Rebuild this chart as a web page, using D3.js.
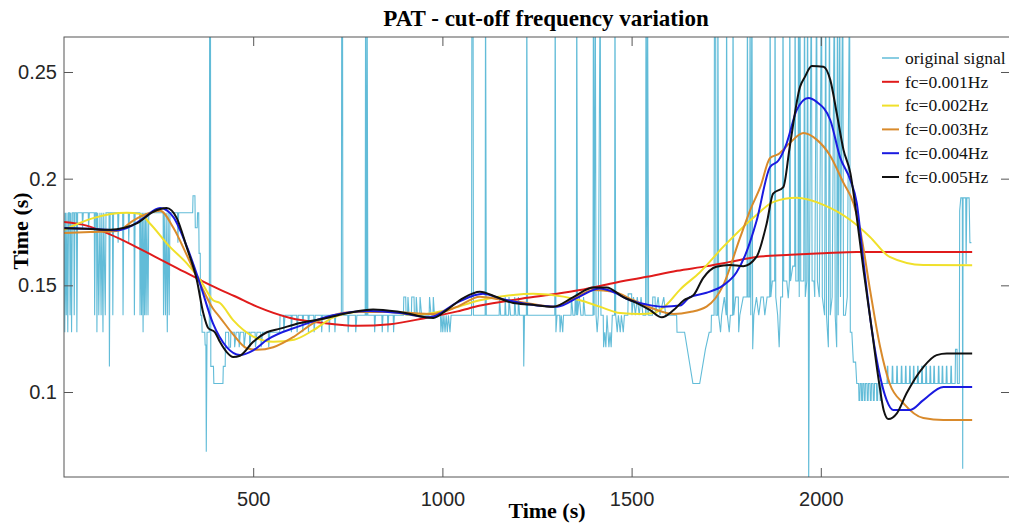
<!DOCTYPE html>
<html lang="en">
<head>
    <meta charset="UTF-8">
    <title>PAT - cut-off frequency variation</title>
    <style>
        body { margin: 0; background: #fff; }
    </style>
</head>
<body>
<script src="https://d3js.org/d3.v7.min.js"></script>

<div id="my_chart"></div>

<script type="text/javascript">

    // ---- data (time in s, PAT in s) ----
    var timeTicks = [500, 1000, 1500, 2000];
    var valueTicks = [0.1, 0.15, 0.2, 0.25];

    var seriesNames = ["original signal", "fc=0.001Hz", "fc=0.002Hz", "fc=0.003Hz", "fc=0.004Hz", "fc=0.005Hz"];
    var seriesColors = ["#62bcd8", "#e01b1b", "#f0e02a", "#d98a2b", "#1a1ae0", "#111111"];

    // raw PAT signal, corners of the sampled trace (values above the top are clipped spikes)
    var originalSignal = [
        [0,0.184],[2,0.128],[4,0.184],[6,0.136],[8,0.184],[10,0.128],[12,0.184],[15,0.184],[16,0.136],[18,0.184],[20,0.128],[22,0.184],[26,0.184],[27,0.136],[29,0.184],[33,0.184],[34,0.128],[36,0.184],
        [48,0.184],[49,0.177],[51,0.184],[64,0.184],[65,0.177],[67,0.184],
        [80,0.184],[81,0.136],[83,0.184],[86,0.184],[87,0.128],[89,0.184],[92,0.136],[95,0.184],[98,0.136],[100,0.184],[103,0.128],[105,0.184],[109,0.136],[111,0.184],
        [119,0.184],[120,0.112],[122,0.184],[128,0.184],[129,0.136],[131,0.184],[142,0.184],[143,0.17],[145,0.184],[155,0.184],[156,0.136],[158,0.184],[170,0.184],[171,0.17],[173,0.184],[185,0.184],[186,0.136],[188,0.184],
        [200,0.184],[201,0.136],[203,0.184],[205,0.136],[207,0.184],[209,0.128],[211,0.184],[213,0.136],[215,0.184],[217,0.136],[219,0.184],[222,0.136],[224,0.184],
        [262,0.184],[263,0.136],[265,0.184],[268,0.136],[270,0.184],[273,0.128],[275,0.184],[278,0.136],[280,0.184],
        [300,0.184],[301,0.17],[303,0.184],
        [340,0.184],[341,0.192],[346,0.192],[347,0.177],[352,0.177],[353,0.184],[356,0.184],[357,0.165],[360,0.165],[361,0.136],[364,0.136],[365,0.128],[372,0.128],[373,0.122],[375,0.122],[376,0.072],[378,0.128],[384,0.128],[385,0.30],[387,0.30],[388,0.112],
        [395,0.112],[396,0.104],[420,0.104],[421,0.112],[426,0.112],[427,0.128],
        [435,0.128],[436,0.121],[440,0.121],[441,0.128],[450,0.128],[451,0.121],[455,0.128],[462,0.128],[463,0.121],[466,0.128],[475,0.128],[476,0.121],[480,0.128],[490,0.128],[491,0.121],[494,0.128],[505,0.128],[506,0.121],[510,0.128],[520,0.128],[521,0.121],[525,0.128],[540,0.128],[541,0.121],[544,0.128],
        [570,0.128],[571,0.136],[580,0.136],[581,0.128],[584,0.136],[600,0.136],[601,0.128],[603,0.136],[615,0.136],[616,0.128],[619,0.136],[630,0.136],[631,0.128],[633,0.136],[645,0.136],[646,0.128],[648,0.136],[660,0.136],[661,0.128],[664,0.136],[680,0.136],[681,0.128],[683,0.136],[700,0.136],[701,0.128],[703,0.136],[715,0.136],[716,0.128],[718,0.136],
        [733,0.136],[734,0.30],[736,0.30],[737,0.136],[750,0.136],[751,0.128],[753,0.136],[770,0.136],[771,0.128],[774,0.136],[796,0.136],[797,0.30],[799,0.136],[800,0.136],[801,0.30],[803,0.136],[820,0.136],[821,0.128],[823,0.136],[840,0.136],[841,0.128],[843,0.136],[855,0.136],[856,0.128],[858,0.136],
        [870,0.136],[871,0.128],[873,0.136],[897,0.136],[898,0.1445],[903,0.1445],[904,0.136],[908,0.136],[909,0.1445],[912,0.136],[918,0.136],[919,0.1445],[925,0.1445],[926,0.136],[930,0.136],[931,0.1445],[934,0.136],[940,0.136],[941,0.1445],[945,0.136],[965,0.136],[966,0.1445],[970,0.136],[975,0.136],[976,0.1445],[979,0.136],
        [995,0.136],[996,0.128],[999,0.136],[1001,0.128],[1004,0.136],[1007,0.128],[1010,0.136],[1013,0.128],[1016,0.136],[1020,0.128],[1023,0.136],
        [1077,0.136],[1078,0.30],[1081,0.30],[1082,0.136],[1113,0.136],[1114,0.30],[1116,0.136],[1150,0.136],[1151,0.1445],[1154,0.136],[1165,0.136],[1166,0.1445],[1168,0.136],[1175,0.136],[1176,0.1445],[1180,0.136],[1190,0.136],[1191,0.1445],[1194,0.136],[1200,0.136],[1201,0.1445],[1204,0.136],
        [1214,0.136],[1215,0.112],[1217,0.136],[1222,0.136],[1223,0.30],[1225,0.136],[1297,0.136],[1298,0.30],[1300,0.128],[1303,0.136],[1310,0.136],[1311,0.128],[1314,0.136],[1318,0.128],[1320,0.136],
        [1340,0.136],[1341,0.1445],[1345,0.136],[1350,0.136],[1351,0.1445],[1354,0.136],[1355,0.30],[1357,0.136],[1362,0.1445],[1366,0.136],[1372,0.136],[1373,0.1445],[1377,0.136],
        [1398,0.136],[1399,0.30],[1401,0.136],[1404,0.30],[1406,0.136],[1409,0.128],[1412,0.136],[1417,0.30],[1419,0.136],[1425,0.136],[1426,0.121],[1429,0.128],[1432,0.121],[1435,0.136],[1440,0.121],[1443,0.128],[1446,0.121],[1449,0.136],
        [1455,0.136],[1456,0.30],[1458,0.136],[1462,0.128],[1465,0.136],[1470,0.128],[1473,0.136],[1478,0.128],[1481,0.136],[1490,0.136],[1491,0.146],[1500,0.146],[1501,0.136],[1505,0.1445],[1510,0.136],[1515,0.1445],[1520,0.136],[1525,0.1445],[1530,0.136],
        [1537,0.136],[1538,0.30],[1541,0.136],[1542,0.30],[1545,0.136],[1555,0.136],[1556,0.1445],[1562,0.1445],[1563,0.136],[1570,0.1445],[1575,0.136],[1585,0.1445],[1590,0.136],[1619,0.136],[1620,0.128],[1640,0.128],
        [1662,0.104],[1680,0.104],[1695,0.120],[1705,0.128],[1710,0.128],[1711,0.136],[1718,0.136],[1719,0.30],[1722,0.30],[1723,0.136],[1727,0.136],[1728,0.30],[1730,0.136],[1735,0.128],[1738,0.136],[1745,0.1445],[1750,0.136],[1751,0.30],[1753,0.136],[1758,0.128],[1761,0.136],
        [1767,0.136],[1768,0.30],[1770,0.136],[1775,0.1445],[1782,0.1445],[1783,0.128],[1786,0.136],[1795,0.1445],[1805,0.1445],[1806,0.30],[1808,0.1445],[1812,0.1445],[1813,0.30],[1815,0.136],[1818,0.30],[1820,0.120],[1823,0.136],
        [1830,0.1445],[1836,0.136],[1842,0.1445],[1848,0.1445],[1852,0.136],[1858,0.1445],[1865,0.1445],[1866,0.30],[1868,0.1445],[1872,0.152],[1878,0.152],[1879,0.30],[1881,0.1445],[1886,0.136],[1890,0.121],[1894,0.1445],[1899,0.1445],[1900,0.30],[1902,0.152],
        [1910,0.152],[1914,0.144],[1917,0.152],[1918,0.30],[1920,0.152],[1926,0.159],[1931,0.159],[1932,0.30],[1934,0.152],[1940,0.152],[1941,0.30],[1943,0.1445],[1945,0.30],[1947,0.152],[1955,0.152],[1957,0.30],[1959,0.1445],[1963,0.152],[1965,0.30],[1967,0.152],[1968,0.055],[1970,0.152],
        [1975,0.30],[1977,0.152],[1982,0.152],[1984,0.1445],[1989,0.30],[1991,0.152],[1996,0.1445],[2002,0.30],[2004,0.1445],[2010,0.136],[2013,0.30],[2015,0.136],[2020,0.121],[2023,0.30],[2025,0.136],[2030,0.1445],[2036,0.30],[2038,0.136],[2042,0.121],[2044,0.30],[2046,0.136],[2050,0.30],[2052,0.1445],[2058,0.30],[2060,0.136],
        [2065,0.136],[2070,0.1445],[2076,0.30],[2078,0.128],[2082,0.128],[2086,0.114],[2092,0.114],[2095,0.104],
        [2100,0.104],[2101,0.096],[2103,0.096],[2104,0.104],[2107,0.104],[2108,0.096],[2110,0.096],[2111,0.104],[2114,0.104],[2115,0.096],[2117,0.096],[2118,0.104],[2122,0.104],[2123,0.096],[2125,0.096],[2126,0.104],
        [2130,0.104],[2131,0.096],[2133,0.096],[2134,0.104],[2138,0.104],[2139,0.096],[2141,0.096],[2142,0.104],[2147,0.104],[2148,0.096],[2150,0.096],[2151,0.104],[2156,0.104],[2157,0.096],[2159,0.096],[2160,0.104],
        [2175,0.104],[2176,0.112],[2177,0.112],[2178,0.104],[2188,0.104],[2189,0.112],[2190,0.112],[2191,0.104],[2200,0.104],[2201,0.112],[2202,0.112],[2203,0.104],[2212,0.104],[2213,0.112],[2214,0.112],[2215,0.104],
        [2223,0.104],[2224,0.112],[2225,0.112],[2226,0.104],[2234,0.104],[2235,0.112],[2236,0.112],[2237,0.104],[2244,0.104],[2245,0.112],[2246,0.112],[2247,0.104],[2255,0.104],[2256,0.112],[2257,0.112],[2258,0.104],
        [2266,0.104],[2267,0.112],[2268,0.112],[2269,0.104],[2277,0.104],[2278,0.112],[2279,0.112],[2280,0.104],[2288,0.104],[2289,0.112],[2290,0.112],[2291,0.104],[2298,0.104],[2299,0.112],[2300,0.112],[2301,0.104],
        [2310,0.104],[2311,0.112],[2312,0.112],[2313,0.104],[2320,0.104],[2321,0.112],[2322,0.112],[2323,0.104],[2331,0.104],[2332,0.112],[2333,0.112],[2334,0.104],[2343,0.104],[2344,0.112],[2345,0.112],[2346,0.104],
        [2355,0.104],[2356,0.120],[2360,0.120],[2361,0.104],[2366,0.104],
        [2367,0.185],[2370,0.191],[2374,0.191],[2375,0.064],[2376,0.191],[2383,0.191],[2384,0.16],[2386,0.191],[2392,0.191],[2394,0.17],[2398,0.17]
    ];

    var fc001 = [
        [0,0.1797],[60,0.178],[120,0.174],[180,0.169],[240,0.1635],[300,0.158],[360,0.1525],[394,0.1495],[412,0.148],[450,0.145],[510,0.140],[598,0.1347],[687,0.1323],[775,0.131],[862,0.1318],[950,0.1345],[1040,0.1378],[1100,0.1405],
        [1200,0.1435],[1280,0.1455],[1364,0.1478],[1450,0.151],[1540,0.154],[1620,0.1568],[1700,0.159],[1760,0.161],[1830,0.1633],[1920,0.1643],[2007,0.165],[2095,0.1656],[2200,0.1656],[2300,0.1656],[2400,0.1656]
    ];

    var fc002 = [
        [0,0.176],[77,0.1815],[166,0.184],[200,0.1835],[227,0.179],[280,0.168],[324,0.1604],[360,0.1525],[394,0.143],[412,0.1417],[447,0.1337],[500,0.126],[553,0.1235],[608,0.1245],[659,0.129],[712,0.135],[782,0.1375],[862,0.1375],
        [923,0.136],[1011,0.1384],[1099,0.143],[1187,0.1455],[1240,0.146],[1320,0.1447],[1364,0.143],[1416,0.140],[1470,0.137],[1523,0.1366],[1558,0.137],[1593,0.141],[1628,0.148],[1680,0.156],[1742,0.168],[1830,0.183],[1874,0.189],
        [1936,0.191],[2007,0.1877],[2078,0.1806],[2130,0.1727],[2182,0.1633],[2271,0.1595],[2400,0.1594]
    ];

    var fc003 = [
        [0,0.1745],[70,0.175],[140,0.1755],[184,0.1805],[227,0.184],[254,0.185],[289,0.177],[325,0.164],[359,0.151],[394,0.139],[412,0.135],[447,0.127],[483,0.1205],[510,0.1198],[553,0.121],[608,0.126],[659,0.1323],[712,0.136],[765,0.1375],[862,0.1375],
        [976,0.1366],[1040,0.140],[1099,0.1447],[1150,0.1435],[1214,0.142],[1293,0.140],[1350,0.144],[1399,0.1478],[1452,0.147],[1505,0.143],[1558,0.139],[1611,0.1366],[1654,0.1375],[1698,0.140],[1742,0.150],[1786,0.172],[1815,0.186],
        [1840,0.196],[1866,0.2097],[1888,0.2115],[1918,0.2167],[1954,0.2214],[1989,0.2183],[2024,0.211],[2060,0.198],[2086,0.1886],[2104,0.176],[2130,0.148],[2157,0.121],[2182,0.104],[2218,0.0948],[2271,0.0878],[2324,0.0869],[2400,0.0869]
    ];

    var fc004 = [
        [0,0.1769],[70,0.1765],[140,0.1758],[180,0.178],[210,0.1815],[254,0.1862],[289,0.182],[325,0.168],[359,0.151],[394,0.132],[430,0.121],[465,0.1173],[500,0.1195],[536,0.1244],[624,0.131],[711,0.136],[809,0.138],[888,0.137],[967,0.135],
        [1040,0.142],[1107,0.146],[1160,0.1435],[1231,0.141],[1303,0.140],[1360,0.1445],[1416,0.1485],[1450,0.147],[1496,0.143],[1540,0.141],[1583,0.140],[1628,0.1405],[1654,0.1445],[1698,0.1465],[1742,0.150],[1777,0.156],[1800,0.164],
        [1830,0.180],[1866,0.2055],[1888,0.2085],[1910,0.2167],[1936,0.232],[1967,0.2378],[1989,0.236],[2025,0.2275],[2051,0.210],[2078,0.1994],[2095,0.1886],[2113,0.1605],[2135,0.129],[2157,0.107],[2174,0.0962],[2191,0.0916],
        [2236,0.0916],[2271,0.0962],[2324,0.1024],[2400,0.1024]
    ];

    var fc005 = [
        [0,0.1768],[60,0.1765],[122,0.176],[160,0.177],[192,0.179],[236,0.1845],[271,0.1862],[298,0.1815],[324,0.168],[351,0.1525],[368,0.137],[381,0.130],[399,0.128],[412,0.1235],[430,0.1187],[447,0.1164],[465,0.117],[500,0.1235],
        [536,0.128],[571,0.1297],[624,0.1323],[694,0.1347],[750,0.137],[817,0.1387],[888,0.1375],[976,0.1347],[1011,0.1384],[1055,0.144],[1099,0.147],[1143,0.1445],[1187,0.1417],[1231,0.141],[1293,0.140],[1346,0.1445],[1399,0.149],
        [1434,0.149],[1478,0.1445],[1514,0.1417],[1549,0.1384],[1580,0.135],[1611,0.1384],[1638,0.143],[1664,0.1455],[1689,0.1534],[1724,0.1587],[1760,0.1595],[1795,0.159],[1830,0.1633],[1857,0.179],[1874,0.193],[1901,0.196],
        [1918,0.215],[1945,0.243],[1958,0.2477],[1976,0.2528],[2007,0.2525],[2025,0.2463],[2042,0.2308],[2060,0.2135],[2078,0.2027],[2095,0.182],[2113,0.157],[2135,0.129],[2153,0.1056],[2166,0.0916],[2179,0.0873],[2201,0.090],
        [2227,0.0995],[2271,0.1117],[2306,0.1173],[2333,0.118],[2400,0.118]
    ];

    // ---- layout ----
    var W = 1009, H = 525;
    var plotLeft = 64, plotRight = 1010, plotTop = 37, plotBottom = 477;

    var svg = d3
        .select("#my_chart")
        .append("svg")
        .attr("width", W)
        .attr("height", H)
        .style("display", "block");

    var x = d3.scaleLinear().domain([0, 2500]).range([plotLeft, plotRight]);
    var y = d3.scaleLinear().domain([0.06016, 0.2664]).range([plotBottom, plotTop]);

    svg.append("clipPath")
        .attr("id", "plotClip")
        .append("rect")
        .attr("x", plotLeft)
        .attr("y", plotTop)
        .attr("width", plotRight - plotLeft)
        .attr("height", plotBottom - plotTop);

    var plot = svg.append("g").attr("clip-path", "url(#plotClip)");

    var rawLine = d3.line()
        .x(function(d) { return x(d[0]); })
        .y(function(d) { return y(d[1]); });

    var smoothLine = d3.line()
        .curve(d3.curveMonotoneX)
        .x(function(d) { return x(d[0]); })
        .y(function(d) { return y(d[1]); });

    // original signal underneath
    plot.append("path")
        .datum(originalSignal)
        .attr("fill", "none")
        .attr("stroke", seriesColors[0])
        .attr("stroke-width", 1.1)
        .attr("d", rawLine);

    // filtered curves
    var filtered = [fc001, fc002, fc003, fc004, fc005];
    filtered.forEach(function(s, i) {
        plot.append("path")
            .datum(s)
            .attr("fill", "none")
            .attr("stroke", seriesColors[i + 1])
            .attr("stroke-width", 2)
            .attr("stroke-linejoin", "round")
            .attr("d", smoothLine);
    });

    // ---- axes (box with inward ticks) ----
    var axisColor = "#555";
    var tickFont = "'Liberation Sans', Arial, sans-serif";

    var gx = svg.append("g")
        .attr("transform", "translate(0," + plotBottom + ")")
        .call(d3.axisBottom(x).tickValues(timeTicks).tickSizeInner(-9).tickSizeOuter(0).tickPadding(15)
            .tickFormat(function(d) { return String(d); }));
    var gy = svg.append("g")
        .attr("transform", "translate(" + plotLeft + ",0)")
        .call(d3.axisLeft(y).tickValues(valueTicks).tickSizeInner(-9).tickSizeOuter(0).tickPadding(7)
            .tickFormat(function(d) { return String(d); }));
    var gxTop = svg.append("g")
        .attr("transform", "translate(0," + plotTop + ")")
        .call(d3.axisTop(x).tickValues(timeTicks).tickSizeInner(-9).tickSizeOuter(0).tickFormat(""));
    var gyRight = svg.append("g")
        .attr("transform", "translate(" + plotRight + ",0)")
        .call(d3.axisRight(y).tickValues(valueTicks).tickSizeInner(-9).tickSizeOuter(0).tickFormat(""));

    [gx, gy, gxTop, gyRight].forEach(function(g) {
        g.select(".domain").remove();
        g.selectAll(".tick line").attr("stroke", axisColor);
        g.selectAll(".tick text")
            .style("font-family", tickFont)
            .style("font-size", "20px")
            .attr("fill", "#262626");
    });

    svg.append("rect")
        .attr("x", plotLeft)
        .attr("y", plotTop)
        .attr("width", plotRight - plotLeft)
        .attr("height", plotBottom - plotTop)
        .attr("fill", "none")
        .attr("stroke", axisColor)
        .attr("stroke-width", 1);

    // ---- titles ----
    var serif = "'Liberation Serif', 'Times New Roman', serif";

    svg.append("text")
        .attr("x", 546)
        .attr("y", 26)
        .attr("text-anchor", "middle")
        .style("font-family", serif)
        .style("font-weight", "bold")
        .style("font-size", "23px")
        .text("PAT - cut-off frequency variation");

    svg.append("text")
        .attr("x", 547)
        .attr("y", 518)
        .attr("text-anchor", "middle")
        .style("font-family", serif)
        .style("font-weight", "bold")
        .style("font-size", "22px")
        .text("Time (s)");

    svg.append("text")
        .attr("transform", "translate(28,231) rotate(-90)")
        .attr("text-anchor", "middle")
        .style("font-family", serif)
        .style("font-weight", "bold")
        .style("font-size", "22px")
        .text("Time (s)");

    // ---- legend ----
    var legend = svg.append("g");
    seriesNames.forEach(function(name, i) {
        var ly = 58 + i * 23.8;
        legend.append("line")
            .attr("x1", 882)
            .attr("x2", 899)
            .attr("y1", ly)
            .attr("y2", ly)
            .attr("stroke", seriesColors[i])
            .attr("stroke-width", i === 0 ? 1.5 : 2);
        legend.append("text")
            .attr("x", 905)
            .attr("y", ly)
            .attr("dy", "0.33em")
            .style("font-family", serif)
            .style("font-size", "17.5px")
            .attr("fill", "#111")
            .text(name);
    });

</script>
</body>
</html>
